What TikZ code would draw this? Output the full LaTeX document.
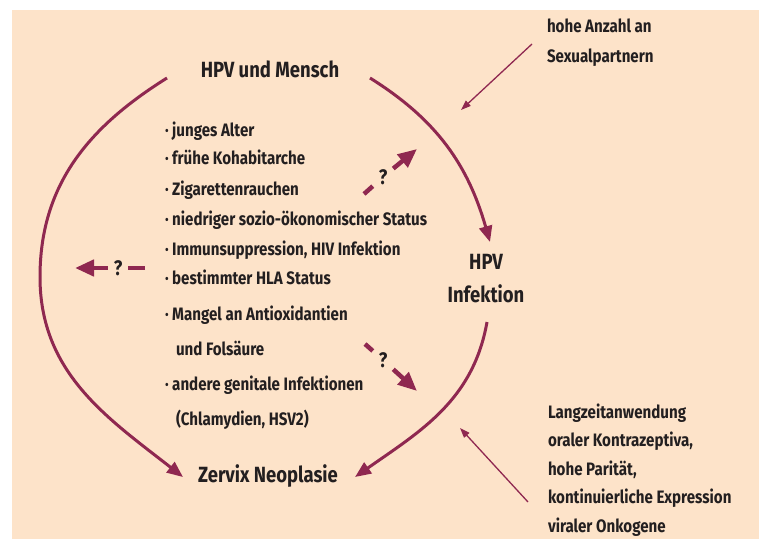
\documentclass[tikz,border=0pt]{standalone}
\usepackage{fontspec}
\setmainfont{Fira Sans}[FakeStretch=0.84]
\usetikzlibrary{arrows.meta}
\definecolor{peach1}{RGB}{253,227,201}
\definecolor{maroon1}{RGB}{143,40,80}
\definecolor{gray1}{RGB}{35,31,32}
\def\lsize{18}
\def\tsize{22}

\begin{document}
\begin{tikzpicture}[x=1pt, y=1pt, inner sep=0pt, outer sep=0pt,
				title/.style={font=\fontsize{\tsize}{33}\selectfont\bfseries,text=gray1,align=center},
				item/.style={font=\fontsize{\lsize}{20}\selectfont\bfseries,text=gray1,anchor=base west},
				query/.style={font=\fontsize{21}{21}\selectfont\bfseries,text=gray1,inner sep=6pt},
				cycle/.style={line width=3pt,color=maroon1,-{Triangle[length=16pt,width=13pt]}},
				maybe/.style={line width=4.5pt,color=maroon1},
				maybetip/.style={maybe,-{Triangle[length=19pt,width=16pt]}},
				cause/.style={line width=1.3pt,color=maroon1,-{Triangle[length=10pt,width=7pt]}}]

	% Frame
	\useasboundingbox (0,0) rectangle (759,539);
	\fill[peach1] (12,0) rectangle (759,529);

	% Stages
	\node[title,anchor=base] (mensch) at (270,461.5) {HPV und Mensch};
	\node[title] (infektion) at (486,260) {HPV\\Infektion};
	\node[title,anchor=base] (neoplasie) at (268,56.5) {Zervix Neoplasie};

	% Risk factors
	\foreach \x/\y/\t in {165/402.5/{· junges Alter}, 165/374/{· frühe Kohabitarche},
			165/344/{· Zigarettenrauchen}, 165/314/{· niedriger sozio-ökonomischer Status},
			165/284/{· Immunsuppression, HIV Infektion}, 165/255/{· bestimmter HLA Status},
			165/219/{· Mangel an Antioxidantien}, 176/184/{und Folsäure},
			165/149/{· andere genitale Infektionen}, 176/114/{(Chlamydien, HSV2)}}
		\node[item] at (\x,\y) {\t};

	\node[item] (partner1) at (547,506) {hohe Anzahl an};
	\node[item] (partner2) at (547,476) {Sexualpartnern};

	\foreach \t [count=\i] in {Langzeitanwendung, {oraler Kontrazeptiva,}, {hohe Parität,},
			kontinuierliche Expression, viraler Onkogene}
		\node[item] (cofactor\i) at (548,{121-28.5*(\i-1)}) {\t};

	% Cycle
	\coordinate (m-l) at (167,461);
	\coordinate (m-r) at (370,461);
	\coordinate (i-t) at (490,297);
	\coordinate (i-b) at (487,217);
	\coordinate (n-l) at (183,62);
	\coordinate (n-r) at (355,62);
	\draw[cycle] (m-l) to[out=212,in=90] (40,262) to[out=-90,in=142] (n-l);
	\draw[cycle] (m-r) to[out=-32,in=106] (i-t);
	\draw[cycle] (i-b) to[out=-100,in=35] (n-r);

	% Uncertain links
	\coordinate (up-s) at (364,345);
	\coordinate (up-e) at (417,390);
	\node[query] (q-up) at (383,362) {?};
	\draw[maybe] (up-s) -- (q-up);
	\draw[maybetip] (q-up) -- (up-e);

	\coordinate (down-s) at (365,195);
	\coordinate (down-e) at (417,148);
	\node[query] (q-down) at (383,179) {?};
	\draw[maybe] (down-s) -- (q-down);
	\draw[maybetip] (q-down) -- (down-e);

	\coordinate (left-s) at (145,271);
	\coordinate (left-e) at (75,271);
	\node[query] (q-left) at (118,271) {?};
	\draw[maybe] (left-s) -- (q-left);
	\draw[maybetip] (q-left) -- (left-e);

	% Cofactors
	\coordinate (c-top) at (532,495);
	\coordinate (c-top-e) at (461,429);
	\coordinate (c-bot) at (528,37);
	\coordinate (c-bot-e) at (460,111);
	\draw[cause] (c-top) -- (c-top-e);
	\draw[cause] (c-bot) -- (c-bot-e);

\end{tikzpicture}
\end{document}
